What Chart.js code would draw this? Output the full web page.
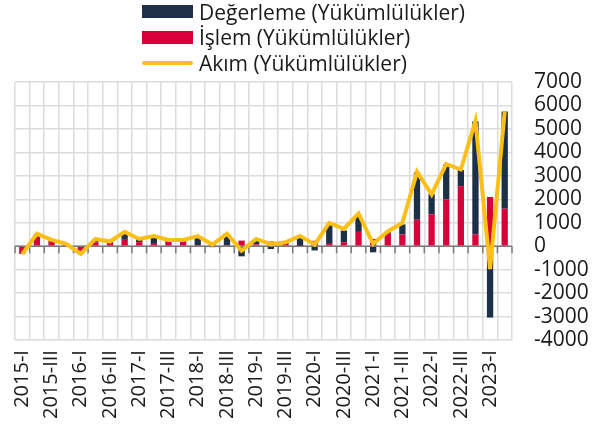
<!DOCTYPE html>
<html lang="tr">
<head>
<meta charset="UTF-8">
<title>Yükümlülükler</title>
<script src="https://cdn.jsdelivr.net/npm/chart.js@4.4.0/dist/chart.umd.min.js"></script>
<style>
  body { margin: 0; background: #fff; }
  #wrap { position: relative; width: 606px; height: 435px; }
  #legend { position: absolute; left: 142px; top: -1px; font-family: "Open Sans", sans-serif; font-size: 21px; color: #1a1a1a; }
  #legend div { height: 25.5px; display: flex; align-items: center; }
  #legend span.box { display: inline-block; width: 51px; height: 13px; margin-right: 6px; }
  #legend span.ln { display: inline-block; width: 51px; height: 4px; margin-right: 6px; border-radius: 2px; }
</style>
</head>
<body>
<div id="wrap">
<canvas id="chart" width="606" height="435"></canvas>
<div id="legend"></div>
</div>
<script>
var quarters = ["2015-I","2015-II","2015-III","2015-IV","2016-I","2016-II","2016-III","2016-IV",
  "2017-I","2017-II","2017-III","2017-IV","2018-I","2018-II","2018-III","2018-IV",
  "2019-I","2019-II","2019-III","2019-IV","2020-I","2020-II","2020-III","2020-IV",
  "2021-I","2021-II","2021-III","2021-IV","2022-I","2022-II","2022-III","2022-IV",
  "2023-I","2023-II"];

var degerleme = [-30, 100, 60, 40, -140, 140, 60, 300, 140, 300, 70, 70, 370, -40, 490, -430,
  230, -120, 30, 420, -180, 820, 500, 720, -260, 40, 430, 2010, 860, 1500, 690, 4820, -3040, 4140];
var islem = [-300, 430, 210, 60, -190, 170, 140, 310, 170, 100, 200, 200, 40, 100, 40, 240,
  80, 200, 140, 20, 230, 100, 170, 610, 310, 560, 500, 1130, 1360, 1990, 2560, 500, 2100, 1600];
var akim = [-330, 530, 270, 100, -330, 310, 200, 610, 310, 430, 270, 270, 430, 70, 530, -190,
  310, 90, 170, 440, 70, 990, 740, 1400, 100, 630, 990, 3170, 2210, 3500, 3270, 5340, -970, 5740];

var NAVY = '#1d3048';
var RED = '#d7003a';
var YELLOW = '#fbbf16';

var legendItems = [
  { label: 'Değerleme (Yükümlülükler)', color: NAVY, kind: 'box' },
  { label: 'İşlem (Yükümlülükler)', color: RED, kind: 'box' },
  { label: 'Akım (Yükümlülükler)', color: YELLOW, kind: 'ln' }
];
var leg = document.getElementById('legend');
legendItems.forEach(function (it) {
  var row = document.createElement('div');
  var sw = document.createElement('span');
  sw.className = it.kind;
  sw.style.background = it.color;
  row.appendChild(sw);
  row.appendChild(document.createTextNode(it.label));
  leg.appendChild(row);
});

// zero line with small ticks at category boundaries
var zeroLine = {
  id: 'zeroLine',
  beforeDatasetsDraw: function (chart) {
    var y = chart.scales.y, ctx = chart.ctx;
    var y0 = y.getPixelForValue(0);
    ctx.save();
    ctx.strokeStyle = '#7a7a7a';
    ctx.lineWidth = 1.5;
    ctx.beginPath();
    ctx.moveTo(chart.chartArea.left, y0);
    ctx.lineTo(chart.chartArea.right, y0);
    var step = (chart.chartArea.right - chart.chartArea.left) / quarters.length;
    for (var i = 0; i <= quarters.length; i++) {
      var px = chart.chartArea.left + i * step;
      ctx.moveTo(px, y0);
      ctx.lineTo(px, y0 + 7);
    }
    ctx.stroke();
    ctx.restore();
  }
};

new Chart(document.getElementById('chart').getContext('2d'), {
  type: 'bar',
  data: {
    labels: quarters,
    datasets: [
      { type: 'line', label: 'Akım (Yükümlülükler)', data: akim, borderColor: YELLOW, borderWidth: 4,
        pointRadius: 0, tension: 0, fill: false, order: 0, stack: 'l' },
      { label: 'İşlem (Yükümlülükler)', data: islem, backgroundColor: RED, order: 1, stack: 's',
        barPercentage: 0.9, categoryPercentage: 0.48 },
      { label: 'Değerleme (Yükümlülükler)', data: degerleme, backgroundColor: NAVY, order: 2, stack: 's',
        barPercentage: 0.9, categoryPercentage: 0.48 }
    ]
  },
  options: {
    responsive: false,
    animation: false,
    layout: { padding: { top: 82, left: 15, right: 0, bottom: 6 } },
    plugins: { legend: { display: false }, tooltip: { enabled: false } },
    scales: {
      x: {
        stacked: true,
        grid: { color: '#dcdcdc', lineWidth: 1.5, offset: true, drawTicks: false },
        border: { display: false },
        ticks: {
          autoSkip: false, minRotation: 90, maxRotation: 90, padding: 10,
          color: '#1a1a1a', font: { family: '"Open Sans", sans-serif', size: 20 },
          callback: function (v, i) { return i % 2 === 0 ? quarters[i] : ''; }
        }
      },
      y: {
        stacked: true,
        position: 'right',
        min: -4000, max: 7000,
        afterFit: function (scale) { scale.width = 94; },
        grid: { color: '#dcdcdc', lineWidth: 1.5, drawTicks: false },
        border: { display: false },
        ticks: {
          stepSize: 1000, autoSkip: false, padding: 22, color: '#1a1a1a',
          font: { family: '"Open Sans", sans-serif', size: 21 },
          callback: function (v) { return String(v); }
        }
      }
    }
  },
  plugins: [zeroLine]
});
</script>
</body>
</html>
